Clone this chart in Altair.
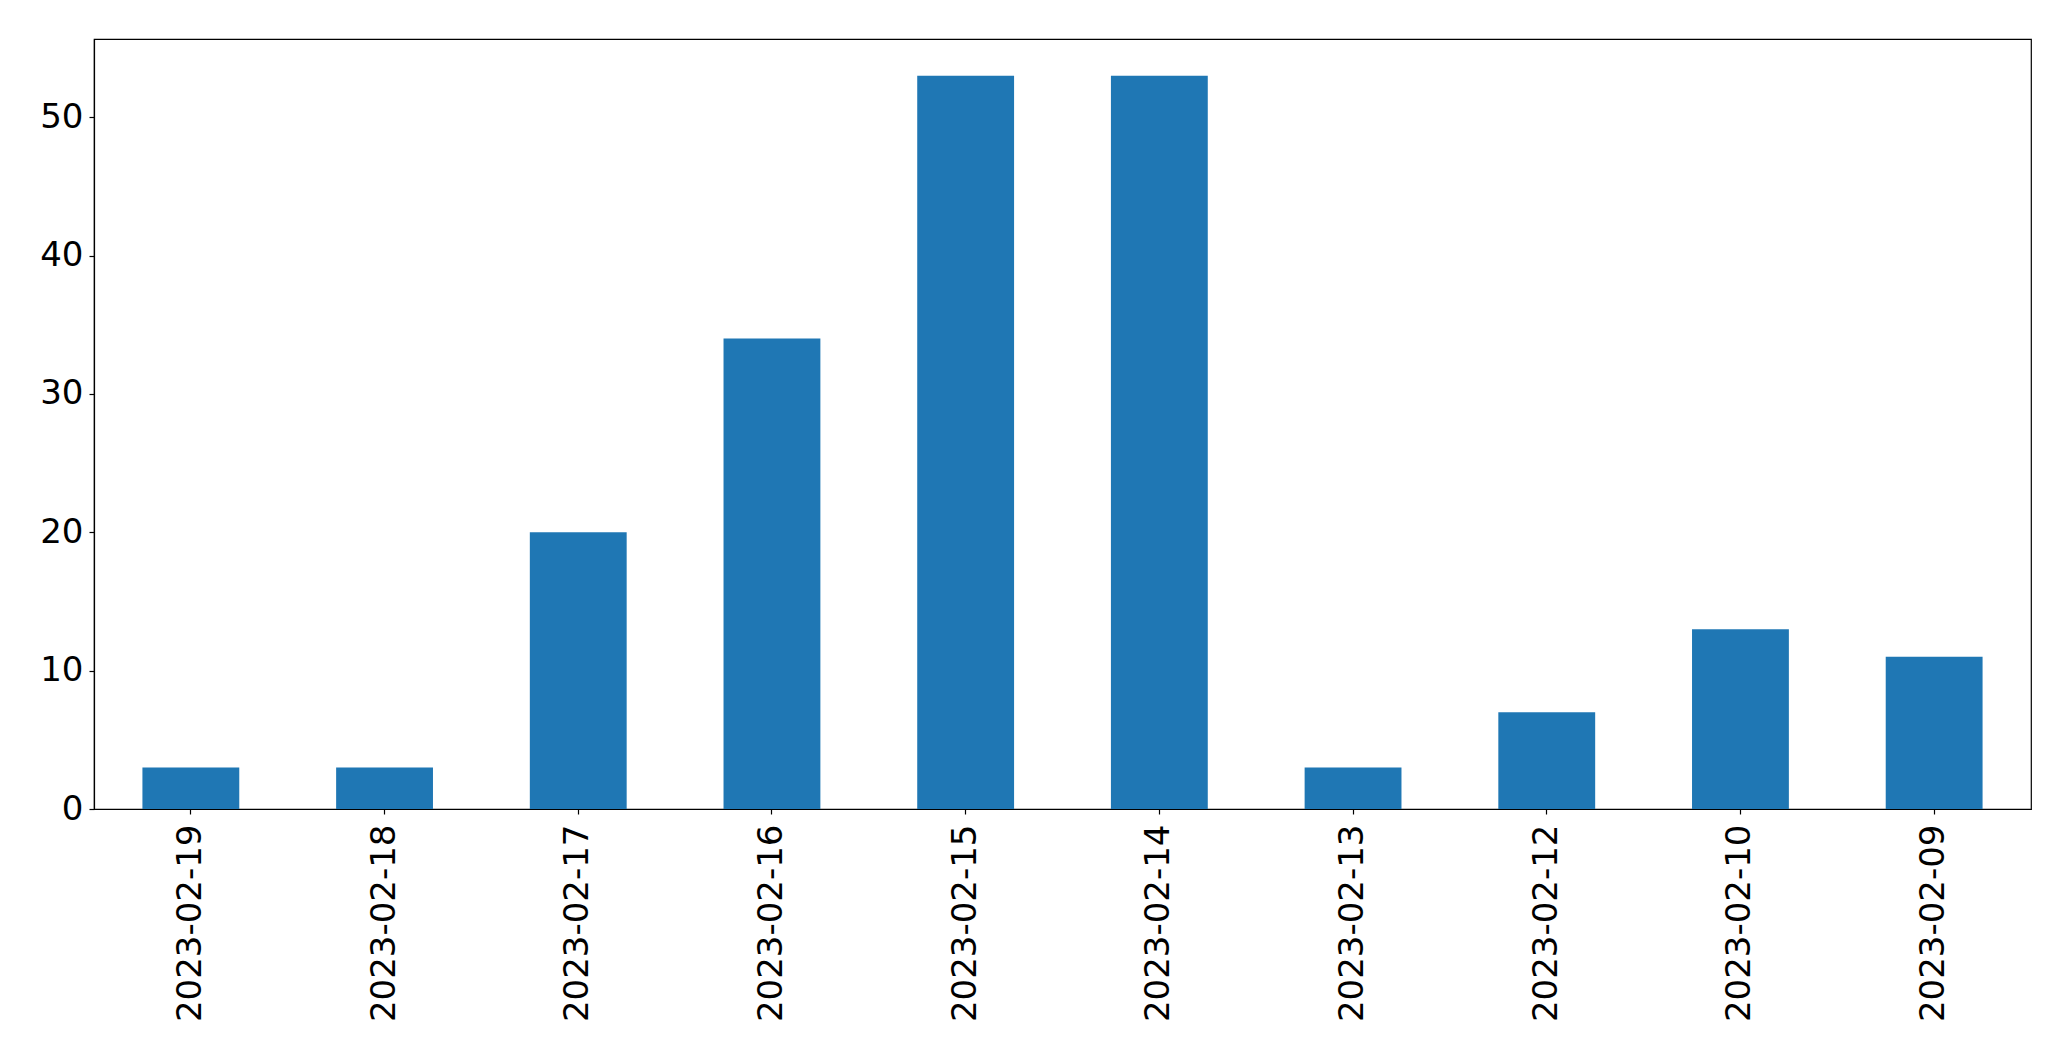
import altair as alt
import pandas as pd

dates = ["2023-02-19", "2023-02-18", "2023-02-17", "2023-02-16", "2023-02-15",
         "2023-02-14", "2023-02-13", "2023-02-12", "2023-02-10", "2023-02-09"]
counts = [3, 3, 20, 34, 53, 53, 3, 7, 13, 11]
y_ticks = [0, 10, 20, 30, 40, 50]

df = pd.DataFrame({"date": dates, "count": counts})

chart = alt.Chart(df).mark_bar(color="#1f77b4").encode(
    x=alt.X("date:N", sort=dates, title=None,
            scale=alt.Scale(paddingInner=0.5, paddingOuter=0.25),
            axis=alt.Axis(labelAngle=270, labelFontSize=34, labelFont="DejaVu Sans",
                          labelColor="black", tickColor="black", tickSize=5, tickWidth=1.2,
                          labelPadding=10, labelLimit=0, domainColor="black",
                          domainWidth=1.2, grid=False)),
    y=alt.Y("count:Q", title=None,
            scale=alt.Scale(domain=[0, 55.65], nice=False, zero=True),
            axis=alt.Axis(values=y_ticks, labelFontSize=34, labelFont="DejaVu Sans",
                          labelColor="black", tickColor="black", tickSize=5, tickWidth=1.2,
                          labelPadding=6, domainColor="black", domainWidth=1.2, grid=False)),
).properties(
    width=1937, height=770,
    background="white",
    padding={"left": 86, "top": 31, "right": 20, "bottom": 235},
    autosize=alt.AutoSizeParams(type="none"),
).configure_view(
    stroke="black", strokeWidth=1.2
)

chart.save("out.html", embed_options={"renderer": "svg", "actions": False})
